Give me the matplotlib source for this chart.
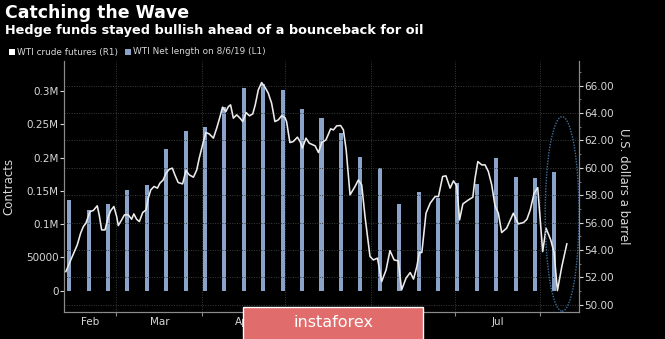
import matplotlib
matplotlib.use("Agg")
import matplotlib.pyplot as plt
import matplotlib.dates as mdates
from matplotlib.patches import Ellipse, Rectangle
from matplotlib.ticker import FuncFormatter, FixedLocator, MultipleLocator
import numpy as np
import pandas as pd

# ---------------------------------------------------------------------
# data
# ---------------------------------------------------------------------
# weekly net length (contracts), COT Tuesdays
net_dates = pd.date_range("2019-02-12", "2019-08-06", freq="7D")
net_length = [137000, 121000, 131000, 152000, 159000, 213000, 240000,
              246000, 276000, 304000, 310000, 302000, 273000, 260000,
              237000, 201000, 184000, 130000, 148000, 140000, 162000,
              160000, 200000, 171000, 169000, 178000]

# WTI front month, days counted from 2019-01-01
price_day = [40.8, 42.3, 43.7, 44.9, 46.1, 47.1, 48.0, 49.5, 50.7, 52.1,
             52.8, 53.7, 54.9, 56.1, 57.0, 58.1, 59.1, 59.7, 60.9, 61.9,
             63.3, 64.5, 65.3, 66.3, 67.3, 68.5, 69.7, 70.5, 71.4, 72.6,
             73.8, 74.7, 75.9, 76.9, 78.1, 79.2, 80.1, 81.3, 82.9, 84.1,
             85.3, 86.8, 88.0, 88.9, 90.4, 91.3, 92.5, 94.0, 95.2, 96.4,
             97.3, 98.5, 99.4, 100.2, 101.2, 102.4, 103.6, 104.6, 105.8, 107.0,
             108.2, 109.1, 110.2, 111.4, 112.6, 113.8, 115.0, 116.2, 117.4, 118.6,
             119.8, 120.4, 121.6, 122.8, 124.3, 125.3, 126.1, 127.4, 128.6, 130.7,
             131.9, 133.1, 134.6, 136.3, 137.3, 138.5, 139.9, 140.9, 141.9, 143.3,
             145.1, 146.3, 147.5, 148.7, 150.5, 151.7, 153.2, 154.7, 156.3, 157.7,
             159.2, 160.7, 161.9, 163.5, 165.0, 166.2, 167.4, 168.3, 169.2, 170.7,
             172.2, 174.0, 175.2, 176.7, 177.9, 179.4, 180.6, 181.8, 182.8, 184.0,
             186.0, 187.6, 188.4, 189.4, 190.8, 192.0, 193.2, 194.4, 195.6, 196.8,
             198.0, 199.8, 202.2, 204.0, 205.9, 207.1, 208.3, 209.7, 211.0, 212.8,
             214.0, 215.7, 216.9, 218.1, 219.7, 221.5]
price_usd = [52.43, 53.16, 53.82, 54.38, 55.23, 55.72, 55.96, 56.81, 56.89, 57.23,
             56.57, 55.47, 55.47, 56.45, 56.89, 57.18, 56.45, 55.79, 56.20, 56.57,
             56.57, 56.25, 56.64, 56.25, 56.08, 56.74, 56.93, 57.79, 58.39, 58.64,
             58.52, 58.88, 59.12, 59.61, 59.90, 59.98, 59.49, 58.93, 58.83, 59.80,
             59.49, 59.32, 59.85, 60.71, 61.92, 62.58, 62.48, 62.17, 62.90, 63.74,
             64.43, 64.11, 64.47, 64.60, 63.63, 63.87, 63.63, 63.38, 64.04, 63.80,
             63.94, 64.60, 65.69, 66.23, 65.89, 65.45, 64.72, 63.38, 63.50, 63.80,
             63.67, 63.38, 61.85, 61.92, 62.24, 61.92, 61.44, 62.17, 61.80, 61.61,
             61.12, 61.85, 62.04, 62.85, 62.77, 63.07, 63.09, 62.77, 61.31, 58.03,
             58.64, 59.12, 58.76, 56.45, 53.53, 53.28, 53.41, 51.70, 52.55, 53.96,
             53.28, 53.21, 51.09, 51.95, 52.36, 51.88, 52.80, 53.82, 53.82, 56.69,
             57.42, 57.91, 57.91, 59.37, 59.42, 58.52, 59.05, 58.69, 56.20, 57.37,
             57.66, 57.86, 59.25, 60.46, 60.22, 60.22, 59.73, 58.76, 57.23, 56.69,
             55.28, 55.60, 56.69, 55.91, 56.01, 56.25, 56.93, 58.15, 58.56, 53.89,
             55.60, 54.74, 53.82, 51.04, 52.80, 54.45]

month_names = ["Feb", "Mar", "Apr", "May", "Jun", "Jul"]
left_ticks = [0, 50000, 100000, 150000, 200000, 250000, 300000]
right_ticks = [50, 52, 54, 56, 58, 60, 62, 64, 66]

year_start = mdates.date2num(pd.Timestamp("2019-01-01"))
price_x = year_start + np.array(price_day)
net_x = mdates.date2num(net_dates)

BG = "black"
TXT = "#d8d8d8"
BAR = "#8aa3c9"
GRID = "#3c3c3c"
SPINE = "#8a8a8a"

plt.rcParams["font.family"] = "DejaVu Sans"

fig = plt.figure(figsize=(6.65, 3.39), dpi=100, facecolor=BG)
ax = fig.add_axes([0.0962, 0.0805, 0.7745, 0.7395], facecolor=BG)
ax2 = ax.twinx()

# bars: net length on left axis
ax.bar(net_x, net_length, width=1.45, color=BAR, zorder=2)
ax.set_ylim(-31500, 345000)
ax.yaxis.set_major_locator(FixedLocator(left_ticks))


def contracts_fmt(v, pos):
    if v == 0:
        return "0"
    if v < 100000:
        return f"{v:.0f}"
    return f"{v / 1e6:g}M"


ax.yaxis.set_major_formatter(FuncFormatter(contracts_fmt))
ax.set_ylabel("Contracts", color=TXT, fontsize=8.5)
ax.yaxis.set_label_coords(-0.095, 0.5)

# price line on right axis
ax2.plot(price_x, price_usd, color="#ececec", lw=1.15, zorder=3)
ax2.set_ylim(49.5, 67.8)
ax2.yaxis.set_major_locator(FixedLocator(right_ticks))
ax2.yaxis.set_minor_locator(MultipleLocator(1))
ax2.yaxis.set_major_formatter(FuncFormatter(lambda v, p: f"{v:.2f}"))
ax2.set_ylabel("U.S. dollars a barrel", color=TXT, fontsize=8.5, rotation=270, va="center")
ax2.yaxis.set_label_coords(1.0854, 0.5)

# x axis: month boundaries as ticks, names in the middle
ax.set_xlim(year_start + 40.1, year_start + 225.9)
month_starts = mdates.date2num(pd.date_range("2019-02-01", "2019-08-01", freq="MS"))
ax.xaxis.set_major_locator(FixedLocator(month_starts[1:]))
ax.xaxis.set_major_formatter(FuncFormatter(lambda v, p: ""))
lo = year_start + 40.1
mids = []
for i in range(len(month_names)):
    a = max(month_starts[i], lo)
    b = month_starts[i + 1]
    mids.append((a + b) / 2)
ax.xaxis.set_minor_locator(FixedLocator(mids))
ax.set_xticklabels(month_names, minor=True)

# grid: horizontal from the price axis, vertical at month starts
ax2.grid(axis="y", which="major", color=GRID, ls=(0, (1, 1.5)), lw=0.7, zorder=0)
ax.grid(axis="x", which="major", color=GRID, ls=(0, (1, 1.5)), lw=0.7, zorder=0)
ax.set_axisbelow(True)
ax2.set_axisbelow(True)

for a in (ax, ax2):
    for s in a.spines.values():
        s.set_color(SPINE)
        s.set_linewidth(0.8)
    a.spines["top"].set_visible(False)

ax.tick_params(axis="y", colors=TXT, labelsize=7.5, length=3, width=0.8, pad=1)
ax.tick_params(axis="x", which="major", colors=SPINE, length=3, width=0.8)
ax.tick_params(axis="x", which="minor", colors=TXT, labelsize=7.5, length=0, pad=4)
ax2.tick_params(axis="y", which="major", colors=TXT, labelsize=7.5, length=3, width=0.8, pad=1)
ax2.tick_params(axis="y", which="minor", colors=SPINE, length=1.5, width=0.6)

# dotted ring round the latest week
ring = Ellipse((net_x[-1] + 2.8, 56.64), width=12.2, height=14.2,
               fill=False, ec="#3f6f9f", lw=1.0, ls=(0, (1, 1)), zorder=4)
ax2.add_patch(ring)

# titles
fig.text(0.008, 0.946, "Catching the Wave", color="white", fontsize=12.5,
         fontweight="bold", va="baseline")
fig.text(0.008, 0.901, "Hedge funds stayed bullish ahead of a bounceback for oil",
         color="white", fontsize=9.3, fontweight="bold", va="baseline")

# legend row
fig.patches.append(Rectangle((9 / 665, 1 - 55 / 339), 6 / 665, 6 / 339,
                             transform=fig.transFigure, fc="white", ec="none"))
fig.text(17 / 665, 1 - 52 / 339, "WTI crude futures (R1)", color=TXT,
         fontsize=6.4, va="center")
fig.patches.append(Rectangle((125 / 665, 1 - 55 / 339), 6 / 665, 6 / 339,
                             transform=fig.transFigure, fc=BAR, ec="none"))
fig.text(133 / 665, 1 - 52 / 339, "WTI Net length on 8/6/19 (L1)", color=TXT,
         fontsize=6.4, va="center")

# watermark badge along the bottom
fig.patches.append(Rectangle((243 / 665, -0.01), 180 / 665, 0.104,
                             transform=fig.transFigure, fc="#e06c6c",
                             ec="white", lw=1.0, zorder=10))
fig.text(333 / 665, 0.05, "instaforex", color="white", fontsize=11.5,
         ha="center", va="center", zorder=11)

fig.savefig("out.png", dpi=100, facecolor=BG)
